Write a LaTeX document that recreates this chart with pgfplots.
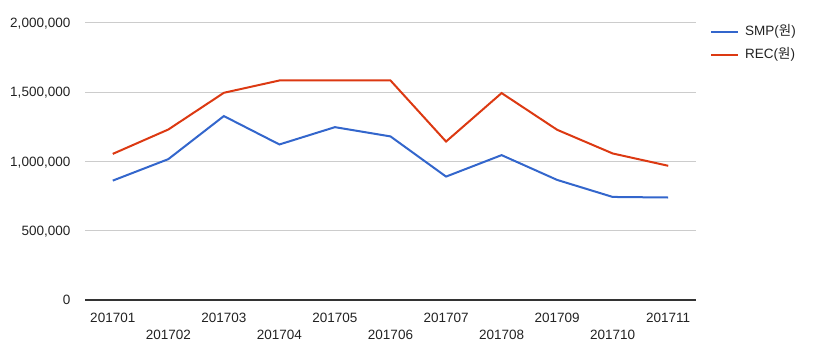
\documentclass[border=0pt]{standalone}
\usepackage{pgfplots}
\pgfplotsset{compat=1.18}
\usepackage{fontspec}
\setmainfont{Liberation Sans}
\newfontfamily\kr{Noto Sans CJK KR}
\definecolor{gblue}{HTML}{3366CC}
\definecolor{gred}{HTML}{DC3912}
\definecolor{gridc}{HTML}{CCCCCC}
\definecolor{axc}{HTML}{333333}
\definecolor{txt}{HTML}{222222}
\begin{document}
\fontsize{13.5}{16}\selectfont
\begin{tikzpicture}
\useasboundingbox (0pt,0pt) rectangle (820pt,361pt);
\begin{axis}[
  at={(85pt,61pt)}, anchor=south west,
  width=611pt, height=277pt, scale only axis,
  xmin=-0.5, xmax=10.5, ymin=0, ymax=2000000,
  axis line style={draw=none},
  tick style={draw=none},
  major tick length=0pt,
  ytick={0,500000,1000000,1500000,2000000},
  scaled y ticks=false,
  /pgf/number format/assume math mode=true,
  /pgf/number format/fixed,
  /pgf/number format/1000 sep={,},
  ymajorgrids,
  grid style={gridc, line width=1pt},
  extra y ticks={0},
  extra y tick labels={},
  extra y tick style={grid style={axc, line width=1.1pt}},
  yticklabel style={font=\fontsize{13.5}{16}\selectfont, text=txt, inner sep=0pt, anchor=base east, xshift=-14.5pt, yshift=-4.6pt},
  xtick={0,2,4,6,8,10},
  xticklabels={201701,201703,201705,201707,201709,201711},
  xticklabel style={font=\fontsize{13.5}{16}\selectfont, text=txt, inner sep=0pt, anchor=base, yshift=-22.3pt},
  extra x ticks={1,3,5,7,9},
  extra x tick labels={201702,201704,201706,201708,201710},
  extra x tick style={xticklabel style={yshift=-17.7pt}},
  legend style={at={(1.0232,0.99)}, anchor=north west, draw=none, fill=none,
    inner sep=0pt, outer sep=0pt, row sep=10pt, column sep=6pt,
    font=\fontsize{13.5}{16}\selectfont, text=txt,
    nodes={inner sep=0pt, text height=10pt, text depth=3pt}},
  legend cell align=left,
  legend image code/.code={\draw[#1] (0pt,0pt) -- (27pt,0pt);},
]
\addplot[gblue, line width=2pt] coordinates {
(0,862000) (1,1017000) (2,1328000) (3,1123000) (4,1248000) (5,1181000)
(6,891000) (7,1046000) (8,867000) (9,744000) (10,740000)};
\addlegendentry{SMP({\kr 원})}
\addplot[gred, line width=2pt] coordinates {
(0,1055000) (1,1231000) (2,1496000) (3,1585000) (4,1585000) (5,1585000)
(6,1144000) (7,1494000) (8,1229000) (9,1058000) (10,969000)};
\addlegendentry{REC({\kr 원})}
\end{axis}
\end{tikzpicture}
\end{document}
